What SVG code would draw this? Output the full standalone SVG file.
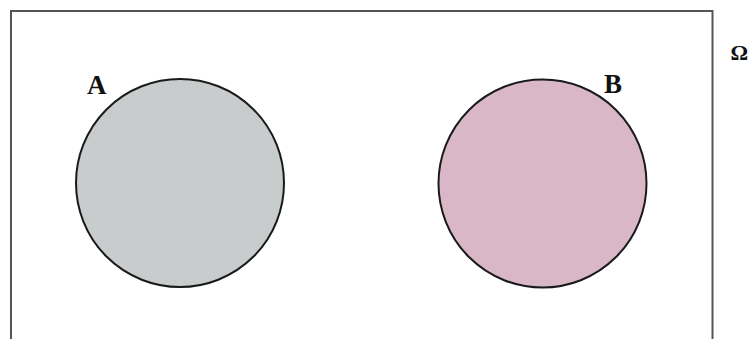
<svg xmlns="http://www.w3.org/2000/svg" width="750" height="339" viewBox="0 0 750 339">
<style>
.lbl{font-family:"Liberation Serif","Times New Roman",serif;font-weight:bold;fill:#111}
.set{stroke:#1a1a1a;stroke-width:2}
</style>
<rect width="750" height="339" fill="#fff"/>
<g id="universe">
<rect x="11" y="11" width="701.5" height="340" fill="none" stroke="#555" stroke-width="2"/>
<text class="lbl" x="748" y="60" font-size="22" text-anchor="end">Ω</text>
</g>
<g id="setA">
<circle class="set" cx="180" cy="183" r="104" fill="#c8cccc"/>
<text class="lbl" x="87" y="94" font-size="27">A</text>
</g>
<g id="setB">
<circle class="set" cx="542.5" cy="183.5" r="104" fill="#d9b7c6"/>
<text class="lbl" x="604" y="93" font-size="27">B</text>
</g>
<g id="connectors"></g>
</svg>
